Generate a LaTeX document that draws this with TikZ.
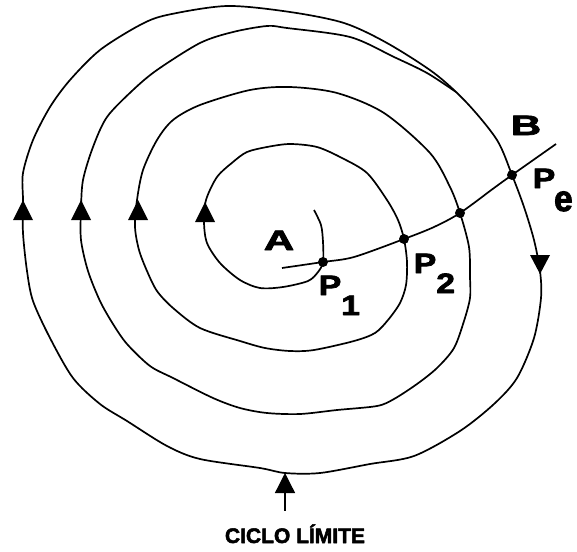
\documentclass[tikz,border=0pt]{standalone}
\usepackage{fontspec}
\setmainfont{Liberation Sans}
\newfontfamily\heavyfont{Liberation Sans Bold}[FakeBold=2.5]
\usetikzlibrary{arrows.meta}

\begin{document}
\begin{tikzpicture}[x=1pt,y=-1pt,line width=1.7pt,line join=round,
	lbl/.style={font=\fontsize{28}{28}\heavyfont, inner sep=0pt},
	pdot/.style={circle, fill=black, inner sep=0pt, minimum size=10pt}]
	\useasboundingbox (0,0) rectangle (577,551);
	% points where the line cuts the curves
	\coordinate (P1) at (323,262);
	\coordinate (P2) at (404,239);
	\coordinate (P3) at (460,213);
	\coordinate (Pe) at (512,175);
	\coordinate (a0) at (282,268);
	\coordinate (b0) at (556,144);
	\coordinate (lc) at (285,473);
	% spiral from A outwards
	\draw plot[smooth] coordinates {(314,210) (321,225) (323,242) (P1) (318,272) (308,281) (283,287) (260,288) (240,280) (220,263) (207,243) (204,222) (206,200) (217,177) (233,162) (247,152) (267,147) (290,144) (317,147) (342,158) (367,173) (387,200) (398,220) (P2) (407,262) (406,285) (400,303) (388,320) (375,333) (354,341) (314,350) (290,351) (265,348) (240,341) (200,328) (173,308) (157,291) (147,271) (139,250) (135,227) (137,200) (143,170) (157,140) (173,120) (200,105) (250,90) (290,87) (337,93) (384,113) (430,153) (450,187) (P3) (469,247) (470,277) (470,298) (464,321) (454,348) (437,368) (417,384) (394,399) (377,406) (337,410) (300,414) (267,413) (240,408) (213,398) (173,378) (150,366) (127,344) (113,324) (100,301) (88,271) (81,240) (81,210) (83,180) (93,147) (107,117) (133,90) (157,70) (200,43) (233,32) (267,26) (287,28) (350,37) (394,57) (427,73) (456,92)};
	% limit cycle
	\draw plot[smooth cycle] coordinates {(227,6) (290,12) (344,23) (387,43) (434,73) (467,103) (497,140) (Pe) (524,207) (534,240) (540,271) (541,298) (534,338) (517,378) (494,404) (460,431) (414,456) (370,464) (320,473) (lc) (260,468) (200,459) (167,446) (127,421) (100,404) (73,378) (50,338) (33,301) (27,271) (23,233) (23,200) (23,173) (33,140) (50,107) (70,80) (100,50) (140,25) (167,15)};
	% line A--B
	\draw plot[smooth] coordinates {(a0) (P1) (354,257) (P2) (434,227) (P3) (494,188) (Pe) (b0)};
	% arrow heads
	\foreach \x/\y in {23/200, 81/200, 138/200, 205/202}
		\fill (\x,\y) -- ++(-10,20) -- ++(20,0) -- cycle;
	\fill (540,274) -- ++(-10,-19) -- ++(20,0) -- cycle;
	\foreach \p in {P1,P2,P3,Pe}
		\node[pdot] (dot\p) at (\p) {};
	\node[lbl, anchor=base] (labA) at (279,250) {\scalebox{1.5}[1]{A}};
	\node[lbl, anchor=base] (labB) at (526,135) {\scalebox{1.5}[1]{B}};
	\node[lbl, anchor=base west] (labP1) at (318,295) {\scalebox{1.2}[1]{P\raisebox{-20pt}{1}}};
	\node[lbl, anchor=base west] (labP2) at (413,273) {\scalebox{1.2}[1]{P\raisebox{-20pt}{2}}};
	\node[lbl, anchor=base west] (labPe) at (532,188) {\scalebox{1.2}[1]{P\kern-1pt\raisebox{-23pt}{\scalebox{1}[1.3]{e}}}};
	\node[font=\fontsize{21}{21}\heavyfont, inner sep=0pt, anchor=base] (lim) at (295,543) {CICLO LÍMITE};
	\draw[line width=1.3pt, -{Triangle[width=20pt,length=20pt]}] ([xshift=-10pt,yshift=13pt]lim.north) -- (lc);
\end{tikzpicture}
\end{document}
